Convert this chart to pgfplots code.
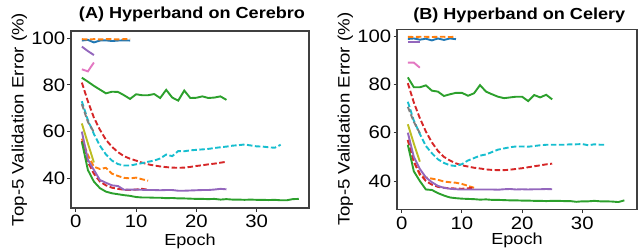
\documentclass[border=0pt]{standalone}
\usepackage{fontspec}
\setmainfont{Liberation Sans}[FakeStretch=1.13]
\usepackage{pgfplots}
\pgfplotsset{compat=1.18}
\definecolor{C0}{HTML}{1F77B4}
\definecolor{C1}{HTML}{FF7F0E}
\definecolor{C2}{HTML}{2CA02C}
\definecolor{C3}{HTML}{D62728}
\definecolor{C4}{HTML}{9467BD}
\definecolor{C6}{HTML}{E377C2}
\definecolor{C7}{HTML}{7F7F7F}
\definecolor{C8}{HTML}{BCBD22}
\definecolor{C9}{HTML}{17BECF}
\pgfplotsset{
  base/.style={
    scale only axis,
    anchor=south west,
    /pgf/number format/assume math mode=true,
    axis line style={black!75, line width=1.1bp},
    tick style={black!80, line width=1bp},
    major tick length=3.5bp,
    tick align=outside,
    xtick pos=bottom, ytick pos=left,
    xtick={0,10,20,30}, ytick={40,60,80,100},
    ticklabel style={font=\fontsize{18bp}{20bp}\selectfont},
    xticklabel style={inner sep=1bp, yshift=-2.5bp},
    yticklabel style={inner sep=2bp},
    xlabel={Epoch},
    ylabel={Top-5 Validation Error (\%)},
    xlabel style={font=\fontsize{16bp}{18bp}\selectfont, at={(axis description cs:0.5,0)}, anchor=base, inner sep=0pt},
    ylabel style={font=\fontsize{16.5bp}{18bp}\selectfont, at={([xshift=-47.3bp]axis description cs:0,0.5)}, anchor=base, rotate=0, inner sep=0pt},
    title style={font=\fontsize{16bp}{18bp}\selectfont\bfseries, anchor=base, inner sep=0pt},
    every axis plot/.append style={line width=1.9bp, mark=none},
  },
  dsh/.style={dash pattern=on 5.5bp off 2.5bp},
}
\begin{document}
\begin{tikzpicture}
\useasboundingbox (0,0) rectangle (638bp,249bp);
% ---------------- Panel A ----------------
\begin{axis}[base,
  at={(71bp,41bp)}, width=238bp, height=177bp,
  xmin=-0.8, xmax=38.7, ymin=27.3, ymax=103.1,
  title={(A) Hyperband on Cerebro},
  title style={at={(0.5,1)}, yshift=6.7bp, xshift=2bp},
  xlabel style={yshift=-37bp},
]
\addplot[C0] coordinates {(1,99) (2,99.3) (3,98.2) (4,99) (5,99.1) (6,98.8) (7,99) (8,99.1) (9,99)};
\addplot[C1,dsh] coordinates {(1,99.6) (2,99.5) (3,99.6) (4,99.5) (5,99.6) (6,99.6) (7,99.5) (8,99.6) (9,99.6)};
\addplot[C4] coordinates {(1,96.4) (2,94.5) (3,92.8)};
\addplot[C6] coordinates {(1,86.7) (2,85.8) (3,89.6)};
\addplot[C2] coordinates {(1,83.1) (2,81.4) (3,79.6) (4,78) (5,76.4) (6,77.1) (7,77) (8,75.6) (9,74) (10,76) (11,75.6) (12,75.6) (13,76.1) (14,74.4) (15,77.9) (16,74.6) (17,73.3) (18,77.6) (19,74.4) (20,74.5) (21,75.1) (22,74.4) (23,74.6) (24,75.1) (25,73.6)};
\addplot[C3,dsh] coordinates {(1,81) (2,73) (3,66) (4,60.8) (5,56.5) (6,53.5) (7,51.2) (8,49.5) (9,48.4) (10,47.6) (11,46.7) (12,46) (13,45.5) (14,45.1) (15,44.8) (16,44.6) (17,44.5) (18,44.6) (19,44.9) (20,45.3) (21,45.6) (22,46) (23,46.3) (24,46.7) (25,47.1)};
\addplot[C9,dsh] coordinates {(1,73) (2,65) (3,59) (4,54) (5,50.2) (6,47.6) (7,46.1) (8,45.5) (9,45.5) (10,46) (11,46.5) (12,47.1) (13,47.6) (14,48.5) (15,50.2) (16,49.5) (17,51.7) (18,51.6) (19,52) (20,52.2) (21,52.4) (22,52.6) (23,53) (24,53.3) (25,53.6) (26,54) (27,54.2) (28,54.5) (29,54.1) (30,53.7) (31,53.6) (32,53.3) (33,53.1) (34,54.4)};
\addplot[C7,dsh] coordinates {(1,71.8) (2,64.2) (3,59.8)};
\addplot[C8] coordinates {(1,63.5) (2,55) (3,46.8)};
\addplot[C1,dsh] coordinates {(1,57) (2,50) (3,45) (4,44) (5,44.5) (6,42) (7,41) (8,40.2) (9,40) (10,40.3) (11,39.6) (12,39)};
\addplot[C3,dsh] coordinates {(1,56) (2,47) (3,42) (4,38.6) (5,37) (6,36) (7,35.5) (8,35.1) (9,35) (10,35.2) (11,35.5) (12,35.1)};
\addplot[C4] coordinates {(1,60) (2,48) (3,43.6) (4,39.3) (5,38.1) (6,37) (7,36.7) (8,35.1) (9,35.2) (10,35.2) (11,35.1) (12,35) (13,35) (14,34.9) (15,35) (16,35) (17,34.7) (18,34.7) (19,34.8) (20,34.9) (21,35) (22,35) (23,35.2) (24,35.5) (25,35.3)};
\addplot[C2] coordinates {(1,55.7) (2,43.6) (3,38.6) (4,35.8) (5,34.3) (6,33.6) (7,33.2) (8,32.8) (9,32.5) (10,32) (11,31.8) (12,31.8) (13,31.7) (14,31.7) (15,31.5) (16,31.6) (17,31.4) (18,31.4) (19,31.3) (20,31.2) (21,31.2) (22,31.1) (23,31.2) (24,30.9) (25,31.1) (26,30.9) (27,30.9) (28,30.8) (29,30.9) (30,30.8) (31,30.8) (32,30.7) (33,30.8) (34,30.6) (35,30.6) (36,31.1) (37,31.2)};
\end{axis}
% ---------------- Panel B ----------------
\begin{axis}[base,
  at={(397bp,39.7bp)}, width=240bp, height=180bp,
  xmin=-0.8, xmax=39.1, ymin=28.3, ymax=102.8,
  title={(B) Hyperband on Celery},
  title style={at={(0.5,1)}, yshift=4.3bp, xshift=2.3bp},
  xlabel style={yshift=-35bp},
]
\addplot[C0] coordinates {(1,98.8) (2,99) (3,98.5) (4,98.9) (5,98.2) (6,99) (7,98.4) (8,99) (9,98.7)};
\addplot[C1,dsh] coordinates {(1,99.7) (2,99.6) (3,99.7) (4,99.7) (5,99.6) (6,99.7) (7,99.7) (8,99.6) (9,99.7)};
\addplot[C4] coordinates {(1,97.6) (2,97.6) (3,97.6)};
\addplot[C6] coordinates {(1,89) (2,89) (3,86.9)};
\addplot[C2] coordinates {(1,82.9) (2,78.8) (3,78.8) (4,79.6) (5,77.4) (6,77) (7,75.2) (8,75.9) (9,76.5) (10,76.5) (11,75.3) (12,76.3) (13,79.7) (14,77) (15,75.9) (16,74.9) (17,74.3) (18,74.6) (19,74.9) (20,74.9) (21,73.1) (22,75.6) (23,74.6) (24,75.7) (25,73.8)};
\addplot[C3,dsh] coordinates {(1,80.5) (2,72.5) (3,66) (4,60.5) (5,56) (6,52.5) (7,50) (8,48.5) (9,47.3) (10,46.5) (11,46) (12,45.5) (13,45.2) (14,44.8) (15,44.6) (16,44.5) (17,44.5) (18,44.7) (19,45) (20,45.3) (21,45.7) (22,46.1) (23,46.5) (24,46.9) (25,47.2)};
\addplot[C9,dsh] coordinates {(1,72.8) (2,65) (3,59.5) (4,54.5) (5,51.5) (6,49) (7,47.5) (8,46.5) (9,46.2) (10,47) (11,48.5) (12,49.5) (13,50.5) (14,51) (15,52) (16,53) (17,53.5) (18,54) (19,54.3) (20,54.3) (21,54.2) (22,54.5) (23,54.8) (24,55) (25,55) (26,55) (27,55) (28,55.2) (29,55.2) (30,55.3) (31,54.8) (32,55.2) (33,55) (34,55)};
\addplot[C7,dsh] coordinates {(1,70.7) (2,64.5) (3,59.8)};
\addplot[C8] coordinates {(1,63.5) (2,55.5) (3,48)};
\addplot[C1,dsh] coordinates {(1,57) (2,48) (3,42.5) (4,41.5) (5,41) (6,40.5) (7,39.8) (8,39.5) (9,39.3) (10,38.8) (11,38) (12,37.2)};
\addplot[C3,dsh] coordinates {(1,57) (2,48) (3,43) (4,40) (5,38.5) (6,37.6) (7,37.2) (8,37) (9,36.9) (10,36.8) (11,37) (12,37.2)};
\addplot[C4] coordinates {(1,60) (2,50) (3,45) (4,41.5) (5,39.5) (6,38) (7,37.2) (8,36.8) (9,36.6) (10,36.5) (11,36.5) (12,36.5) (13,36.5) (14,36.5) (15,36.5) (16,36.4) (17,36.6) (18,36.7) (19,36.5) (20,36.6) (21,36.5) (22,36.6) (23,36.6) (24,36.7) (25,36.6)};
\addplot[C2] coordinates {(1,55) (2,44) (3,40) (4,36.5) (5,36.3) (6,35) (7,34) (8,33.2) (9,32.9) (10,32.7) (11,32.6) (12,32.5) (13,32.3) (14,32.4) (15,32.2) (16,32.2) (17,32.1) (18,32) (19,32) (20,31.9) (21,31.9) (22,31.8) (23,31.8) (24,31.7) (25,31.8) (26,31.8) (27,31.7) (28,31.7) (29,31.4) (30,31.6) (31,31.6) (32,31.8) (33,31.6) (34,31.6) (35,31.5) (36,31.3) (37,32)};
\end{axis}
\end{tikzpicture}
\end{document}
